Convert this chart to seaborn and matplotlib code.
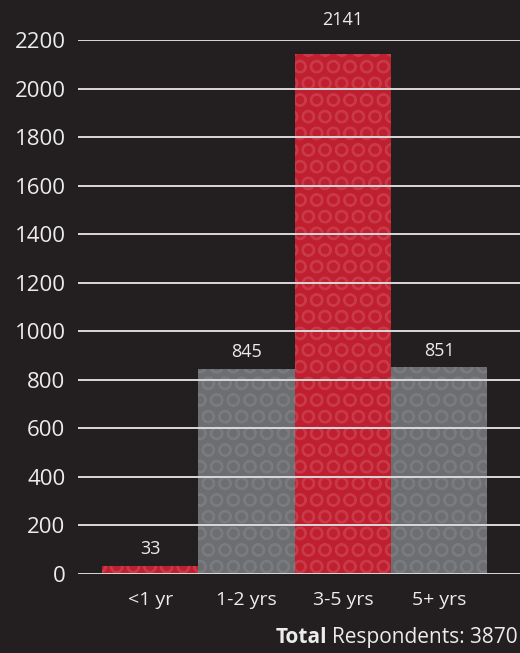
import matplotlib
matplotlib.use("Agg")
import matplotlib.pyplot as plt
import seaborn as sns
import pandas as pd

categories = ["<1 yr", "1-2 yrs", "3-5 yrs", "5+ yrs"]
respondents = [33, 845, 2141, 851]
bar_colors = ["#c01f2f", "#6d6e71", "#c01f2f", "#6d6e71"]
pattern_colors = ["#c83a48", "#7a7b7e", "#c83a48", "#7a7b7e"]
y_ticks = [0, 200, 400, 600, 800, 1000, 1200, 1400, 1600, 1800, 2000, 2200]
total = 3870

bg = "#231f20"
txt = "#ececec"

sns.set_style("dark")
plt.rcParams["font.family"] = ["Open Sans", "DejaVu Sans"]
plt.rcParams["hatch.linewidth"] = 1.5

df = pd.DataFrame({"tenure": categories, "count": respondents})

fig = plt.figure(figsize=(5.2, 6.53), dpi=100, facecolor=bg)
ax = fig.add_axes([0.15, 0.121, 0.85, 0.8177])
ax.set_facecolor(bg)

sns.barplot(data=df, x="tenure", y="count", hue="tenure", palette=bar_colors,
            width=1.0, legend=False, ax=ax, saturation=1)

# rough stand-in for the swirl texture
for patch, pc in zip(ax.patches, pattern_colors):
    patch.set_hatch("O")
    patch.set_edgecolor(pc)
    patch.set_linewidth(0)

for i, v in enumerate(respondents):
    # push the label over the top gridline when the bar reaches it
    off = 25 if v > y_ticks[-1] - 100 else 12
    ax.annotate(str(v), (i, v), xytext=(0, off), textcoords="offset points",
                ha="center", va="center", color=txt, fontsize=13,
                annotation_clip=False, zorder=6)

ax.set_xlim(-0.75, 3.84)
ax.set_ylim(0, 2200)
ax.set_yticks(y_ticks)
for y in y_ticks:
    ax.axhline(y, color="#d9d9d9", lw=1.4, zorder=5)

ax.tick_params(axis="y", colors=txt, labelsize=16, length=0, pad=9)
ax.tick_params(axis="x", colors=txt, labelsize=14, length=0, pad=12)
ax.set_xlabel("")
ax.set_ylabel("")
ax.grid(False)
for s in ax.spines.values():
    s.set_visible(False)

rest = fig.text(0.996, 0.008, f"Respondents: {total}", color=txt, fontsize=15,
                ha="right", va="bottom")
fig.canvas.draw()
bb = rest.get_window_extent()
fig.text((bb.x0 - 5) / fig.bbox.width, 0.008, "Total", color=txt, fontsize=15,
         fontweight="bold", ha="right", va="bottom")

fig.savefig("out.png", dpi=100, facecolor=bg)
